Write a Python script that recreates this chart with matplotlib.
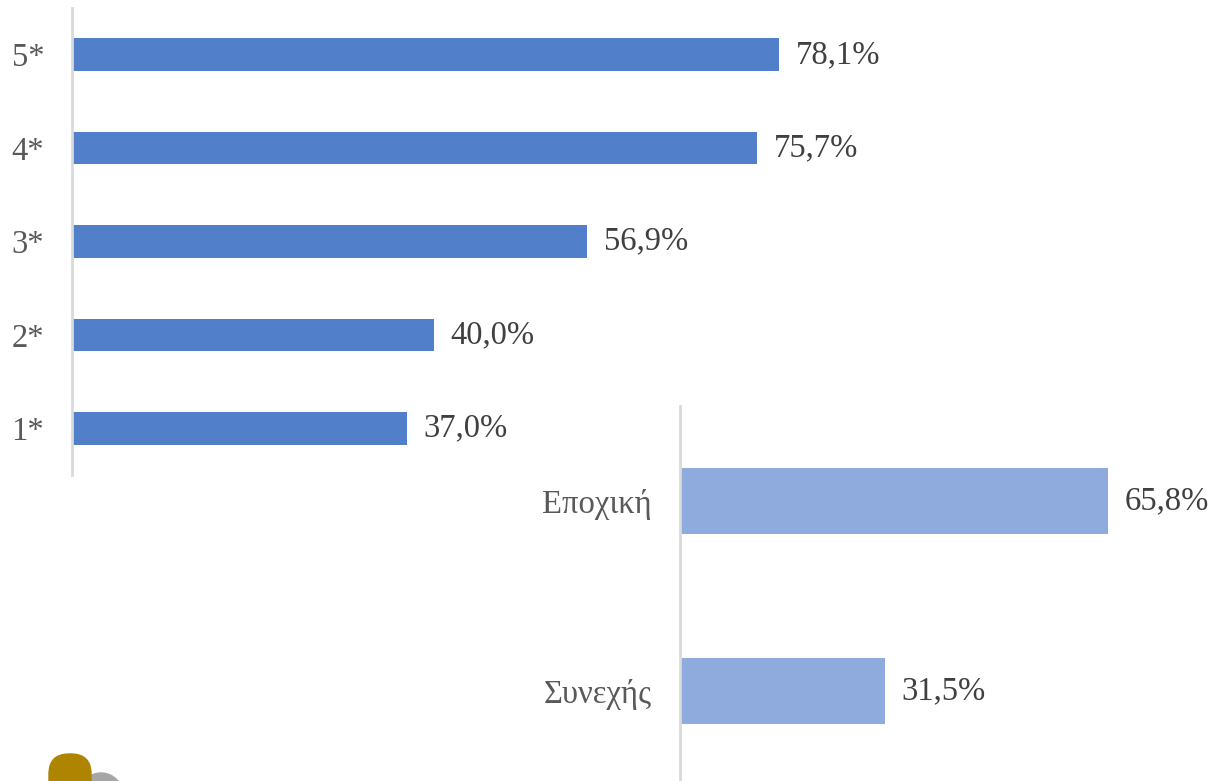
import matplotlib
matplotlib.use("Agg")
import matplotlib.pyplot as plt
from matplotlib.patches import FancyBboxPatch, Circle

plt.rcParams['font.family'] = ['Liberation Serif', 'DejaVu Serif']

# Data
stars_labels = ["1*", "2*", "3*", "4*", "5*"]
stars_values = [37.0, 40.0, 56.9, 75.7, 78.1]
type_labels = ["Συνεχής", "Εποχική"]
type_values = [31.5, 65.8]

W, H = 1217, 781
fig = plt.figure(figsize=(W / 100, H / 100), dpi=100)

tick_color = "#595959"
label_color = "#404040"
spine_color = "#D9D9D9"
fs = 23.5

def fmt(v):
    return f"{v:.1f}".replace(".", ",") + "%"

def setup(ax):
    for s in ["top", "right", "bottom"]:
        ax.spines[s].set_visible(False)
    ax.spines["left"].set_color(spine_color)
    ax.spines["left"].set_linewidth(2)
    ax.set_xticks([])
    ax.tick_params(axis="y", length=0, pad=20, labelsize=fs, labelcolor=tick_color)
    ax.patch.set_alpha(0)

# Top chart: axes from x=72 to 1217 px, y from 8 to 475 px
ax1 = fig.add_axes([72 / W, 1 - 475 / H, (W - 72) / W, (475 - 8) / H])
ypos = list(range(len(stars_labels)))
ax1.barh(ypos, stars_values, height=0.35, color="#517FC9")
ax1.set_yticks(ypos)
ax1.set_yticklabels(stars_labels)
ax1.set_ylim(-0.5, 4.5)
ax1.set_xlim(0, (W - 72) / 9.05)
setup(ax1)
for y, v in zip(ypos, stars_values):
    ax1.annotate(fmt(v), (v, y), xytext=(12, 0), textcoords="offset points",
                 va="center", ha="left", fontsize=fs, color=label_color)

# Bottom chart: axes from x=680 to 1217, y from 406 to 786 px
ax2 = fig.add_axes([680 / W, 1 - 786 / H, (W - 680) / W, (786 - 406) / H])
ypos2 = list(range(len(type_labels)))
ax2.barh(ypos2, type_values, height=0.35, color="#8FAADC")
ax2.set_yticks(ypos2)
ax2.set_yticklabels(type_labels)
ax2.set_ylim(-0.5, 1.5)
ax2.set_xlim(0, (W - 680) / 6.5)
setup(ax2)
for y, v in zip(ypos2, type_values):
    ax2.annotate(fmt(v), (v, y), xytext=(12, 0), textcoords="offset points",
                 va="center", ha="left", fontsize=fs, color=label_color)

# Partial logo at bottom-left
gray = Circle((101, H - 795), 22, transform=None, color="#A6A6A6", zorder=1)
gold = FancyBboxPatch((49, H - 800), 42, 46, boxstyle="round,pad=0,rounding_size=20",
                      transform=None, color="#AE8400", zorder=2)
fig.patches.extend([gray, gold])

fig.savefig("out.png", dpi=100)
